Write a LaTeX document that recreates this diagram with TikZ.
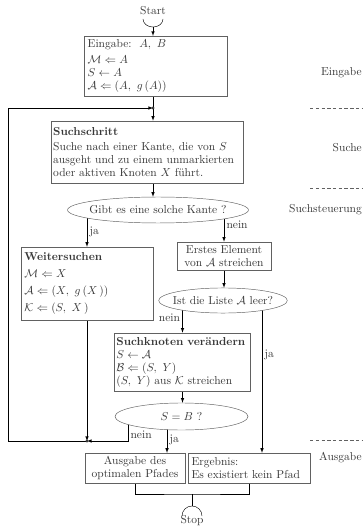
\documentclass[tikz,border=0pt]{standalone}
\usetikzlibrary{shapes.geometric,backgrounds}
\definecolor{ink}{gray}{0.22}
\definecolor{rule}{gray}{0.38}
\tikzset{
  box/.style={draw=rule, fill=white, inner xsep=3pt, inner ysep=2pt, align=left},
  frage/.style={ellipse, draw=rule, fill=white, inner xsep=-4pt, inner ysep=0pt},
  marke/.style={inner sep=2pt},
  bem/.style={anchor=east, inner sep=0pt},
}
\begin{document}
\begin{tikzpicture}[x=0.87pt, y=-0.87pt, color=ink, >=latex,
    font=\fontsize{10}{11}\selectfont]
  \useasboundingbox (0,0) rectangle (362,527);
  % Ablauf
  \node (start) at (153,11) {Start};
  \node[box, text width=118pt, minimum height=52pt] (eingabe) at (155.5,66)
    {Eingabe:\ \ $A,\ B$\\[3pt]
     $\mathcal{M}\Leftarrow A$\\
     $S\leftarrow A$\\
     $\mathcal{A}\Leftarrow(A,\ g\,(A))$};
  \node[box, inner xsep=1.5pt, text width=164pt, minimum height=54pt] (suche) at (147.5,152)
    {\textbf{Suchschritt}\\[2pt]
     Suche nach einer Kante, die von $S$\\
     ausgeht und zu einem unmarkierten\\
     oder aktiven Knoten $X$ führt.};
  \node[frage, minimum width=156.6pt, minimum height=22.6pt] (kante) at (158,210)
    {Gibt es eine solche Kante ?};
  \node[box, text width=108.8pt, minimum height=63.5pt] (weiter) at (87,283.5)
    {\textbf{Weitersuchen}\\[4pt]
     $\mathcal{M}\Leftarrow X$\\[4pt]
     $\mathcal{A}\Leftarrow(X,\ g\,(X\,))$\\[4pt]
     $\mathcal{K}\Leftarrow(S,\ X\,)$};
  \node[box, align=center, minimum width=81.8pt, minimum height=24.4pt] (erstes) at (224,256)
    {Erstes Element\\von $\mathcal{A}$ streichen};
  \node[frage, minimum width=106pt, minimum height=21.8pt] (leer) at (223,300.5)
    {Ist die Liste $\mathcal{A}$ leer?};
  \node[box, inner xsep=1.5pt, text width=115pt, minimum height=50.5pt] (knoten) at (182.5,362)
    {\textbf{Suchknoten verändern}\\[1pt]
     $S\leftarrow\mathcal{A}$\\
     $\mathcal{B}\Leftarrow(S,\ Y)$\\
     $(S,\ Y)$ aus $\mathcal{K}$ streichen};
  \node[frage, minimum width=115.7pt, minimum height=23.5pt] (gleich) at (181.5,416.5)
    {$S=B$ ?};
  \node[box, align=center, minimum width=87pt, minimum height=26pt] (ausgabe) at (135,468)
    {Ausgabe des\\optimalen Pfades};
  \node[box, text width=100pt, minimum height=26pt] (ergebnis) at (249,468)
    {Ergebnis:\\Es existiert kein Pfad};
  \node (stop) at (192,521) {Stop};

  % Phasen am Rand
  \node[bem] (phase1) at (362,73) {Eingabe};
  \node[bem] (phase2) at (362,148) {Suche};
  \node[bem] (phase3) at (362,210) {Suchsteuerung};
  \node[bem] (phase4) at (362,458) {Ausgabe};
  \foreach \y in {108,188,440}
    \draw[rule, line width=0.8pt, dash pattern=on 3pt off 2pt] (310,\y) -- (362,\y);

  \coordinate (startcup) at (153,27);
  \coordinate (j1) at (153,108);
  \coordinate (j2) at (87,441);
  \coordinate (ecke1) at (8,108);
  \coordinate (ecke2) at (8,441);
  \coordinate (zus) at (192,494);
  \coordinate (stopcap) at (192,506);

  \begin{scope}[on background layer]
    \draw (143,19) arc[start angle=180, end angle=360, x radius=8.7pt, y radius=7pt];
    \draw[->] (startcup) -- (startcup |- eingabe.north);
    \draw (j1 |- eingabe.south) -- (j1);
    \draw[->] (j1) -- (j1 |- suche.north);
    \draw[->] (j1 |- suche.south) -- (j1 |- kante.north);
    \draw[->] (weiter.north |- kante) -- node[marke, right, pos=0.6] {ja} (weiter.north);
    \draw[->] (erstes.north |- kante) -- node[marke, right, pos=0.47] {nein} (erstes.north);
    \draw[->] (erstes.south) -- (erstes.south |- leer.north);
    \draw[->] (knoten.north |- leer) -- node[marke, left, pos=0.55] {nein} (knoten.north);
    \draw[->] ([xshift=11.3pt]ergebnis.north |- leer) -- node[marke, right, pos=0.36] {ja}
      ([xshift=11.3pt]ergebnis.north);
    \draw[->] (knoten.south) -- (knoten.south |- gleich.north);
    \draw[->] ([xshift=-46.5pt]gleich.center) |- node[marke, above right, pos=0.5] {nein} (j2);
    \draw[->] ([xshift=-12.6pt]gleich.center) -- node[marke, right, pos=0.65] {ja}
      ([xshift=-12.6pt]gleich.center |- ausgabe.north);
    \draw[->] (weiter.south) -- (j2);
    \draw[->] (j2) -- (ecke2) -- (ecke1) -- (j1);
    \draw (ausgabe.south) |- (zus) -| (ergebnis.south);
    \draw (zus) -- (stopcap);
    \draw (182,516) arc[start angle=180, end angle=0, x radius=8.7pt, y radius=8.7pt];
  \end{scope}
  \fill (j1) circle[radius=1.4pt];
  \fill (j2) circle[radius=1.4pt];
\end{tikzpicture}
\end{document}
